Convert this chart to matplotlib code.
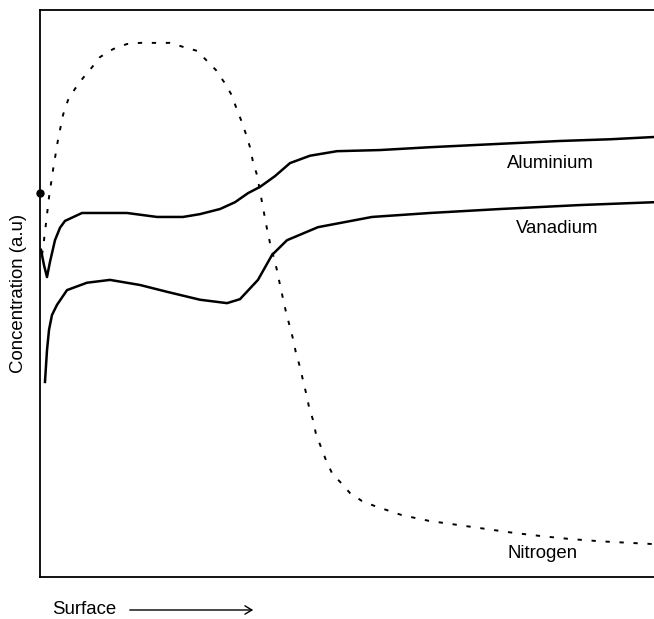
import matplotlib
matplotlib.use("Agg")
import matplotlib.pyplot as plt

plt.rcParams['font.family'] = ['Liberation Sans', 'DejaVu Sans']

# Depth profile (arbitrary units): depth increases to the right, from the surface
al_depth = [0.16, 0.65, 1.14, 1.63, 2.44, 3.26, 4.07, 6.84, 14.17, 19.06, 23.29, 26.06,
            29.32, 31.76, 33.88, 35.83, 38.27, 40.72, 43.97, 48.37, 55.37, 63.52,
            74.92, 84.69, 92.83, 100.0]
al_conc = [57.7, 55.0, 52.9, 55.6, 59.4, 61.6, 62.8, 64.2, 64.2, 63.5, 63.5, 64.0,
           64.9, 66.1, 67.7, 68.8, 70.7, 73.0, 74.3, 75.1, 75.3, 75.8,
           76.4, 76.9, 77.2, 77.6]

v_depth = [0.81, 1.14, 1.47, 1.95, 2.77, 4.40, 7.65, 11.40, 16.29, 20.68, 26.06, 30.46,
           32.57, 35.50, 37.79, 40.23, 45.28, 54.07, 63.52, 74.92, 87.95, 100.0]
v_conc = [34.4, 40.0, 43.6, 46.2, 48.0, 50.6, 51.9, 52.4, 51.5, 50.3, 48.9, 48.3,
          49.0, 52.4, 56.8, 59.4, 61.7, 63.5, 64.2, 64.9, 65.6, 66.1]

n_depth = [0.33, 0.65, 0.98, 1.47, 2.12, 2.93, 3.75, 4.56, 5.70, 7.00, 8.47, 9.77,
           11.89, 14.17, 16.29, 18.73, 21.17, 23.29, 25.57, 27.04, 28.66, 29.97,
           31.11, 31.92, 32.74, 33.55, 34.20, 34.69, 35.34, 36.16, 36.97, 37.46,
           38.60, 39.09, 40.07, 41.21, 41.69, 42.35, 42.83, 43.32, 43.81, 44.46,
           44.95, 45.77, 46.58, 47.56, 49.02, 50.49, 52.44, 54.56, 58.96, 63.36,
           67.92, 72.48, 77.04, 81.76, 86.32, 91.21, 96.42, 100.0]
n_conc = [56.8, 59.4, 62.4, 67.0, 71.8, 77.1, 81.5, 84.1, 86.1, 88.0, 89.9, 91.7,
          93.1, 94.0, 94.2, 94.2, 94.2, 93.5, 92.8, 91.2, 89.4, 87.3,
          85.2, 82.9, 80.6, 78.1, 75.8, 73.2, 70.9, 66.1, 61.4, 58.9,
          54.1, 51.5, 46.7, 42.0, 39.5, 37.0, 34.7, 32.5, 30.0, 27.7,
          25.2, 22.9, 20.6, 18.3, 16.6, 14.8, 13.4, 12.5, 10.9, 9.9,
          9.2, 8.5, 7.8, 7.2, 6.7, 6.3, 6.0, 5.8]

labels = ["Aluminium", "Vanadium", "Nitrogen"]
label_pos = [(83.2, 73.0), (84.2, 61.4), (81.9, 4.2)]

W, H = 654, 619
fig = plt.figure(figsize=(W / 100, H / 100), dpi=100)
ax = fig.add_axes([40 / W, 42 / H, 614 / W, 567 / H])

ax.plot(al_depth, al_conc, color="black", lw=1.8, solid_joinstyle="round")
ax.plot(v_depth, v_conc, color="black", lw=1.8, solid_joinstyle="round")
ax.plot(n_depth, n_conc, color="black", lw=1.4, linestyle=(0, (2.2, 5.0)))

# small mark on the concentration axis
ax.plot([0], [67.8], marker="o", ms=5, color="black", clip_on=False)

for text, (x, y) in zip(labels, label_pos):
    ax.text(x, y, text, ha="center", va="center", fontsize=13.4)

ax.set_xlim(0, 100)
ax.set_ylim(0, 100)
ax.set_xticks([])
ax.set_yticks([])
ax.spines["right"].set_visible(False)
for side in ("left", "top", "bottom"):
    ax.spines[side].set_linewidth(1.3)

fig.text(18.5 / W, 1 - 293 / H, "Concentration (a.u)", rotation=90,
         ha="center", va="center", fontsize=13.4)
fig.text(52 / W, 1 - 610 / H, "Surface", ha="left", va="center", fontsize=13.4)
fig.add_artist(matplotlib.patches.FancyArrowPatch(
    (127 / W, 1 - 610 / H), (256 / W, 1 - 610 / H), transform=fig.transFigure,
    arrowstyle="->,head_length=5,head_width=3", color="black", lw=1.0))

fig.savefig("out.png", dpi=100)
